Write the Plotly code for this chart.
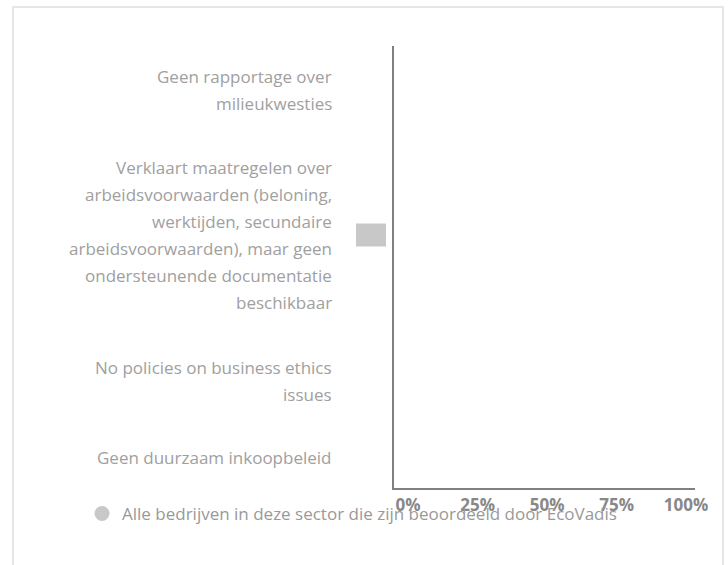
import plotly.graph_objects as go

# ---------------- data ----------------
categories = [
    "Geen rapportage over milieukwesties",
    "Verklaart maatregelen over arbeidsvoorwaarden (beloning, werktijden, secundaire arbeidsvoorwaarden), maar geen ondersteunende documentatie beschikbaar",
    "No policies on business ethics issues",
    "Geen duurzaam inkoopbeleid",
]
category_lines = [
    ["Geen rapportage over", "milieukwesties"],
    ["Verklaart maatregelen over", "arbeidsvoorwaarden (beloning,", "werktijden, secundaire",
     "arbeidsvoorwaarden), maar geen", "ondersteunende documentatie", "beschikbaar"],
    ["No policies on business ethics", "issues"],
    ["Geen duurzaam inkoopbeleid"],
]
values = [0, 0, 0, 0]
series_name = "Alle bedrijven in deze sector die zijn beoordeeld door EcoVadis"
tick_vals = [0, 25, 50, 75, 100]
tick_text = ["0%", "25%", "50%", "75%", "100%"]

# ---------------- styling / layout ----------------
W, H = 728, 565
PL, PR, PT, PB = 394, 695, 46, 488         # plot-area box in window pixels
label_center_px = [90, 235, 380.5, 457]    # Highcharts-like label placement
line_h = 27
label_right_px = 334
FONT = "Open Sans"
LABEL_COL = "#a0a0a0"
AXIS_COL = "#808080"
SERIES_COL = "#c8c8c8"


def px_x(px):
    return (px - PL) / (PR - PL)


def px_y(py):
    return (PB - py) / (PB - PT)


fig = go.Figure()
fig.add_trace(go.Bar(
    x=values, y=categories, orientation="h",
    marker=dict(color=SERIES_COL, line=dict(width=0)),
    showlegend=False, hoverinfo="skip",
))
fig.add_trace(go.Scatter(
    x=[None], y=[None], mode="markers", name=series_name,
    marker=dict(symbol="circle", size=15, color=SERIES_COL),
))

annotations = []
for c, lines in enumerate(category_lines):
    n = len(lines)
    for j, t in enumerate(lines):
        cy = label_center_px[c] + (j - (n - 1) / 2) * line_h
        annotations.append(dict(
            text=t, xref="paper", yref="paper", x=px_x(label_right_px), y=px_y(cy),
            xanchor="right", yanchor="middle", showarrow=False,
            font=dict(family=FONT, size=17, color=LABEL_COL),
        ))

shapes = [
    # outer border
    dict(type="rect", xref="paper", yref="paper",
         x0=px_x(13), x1=px_x(723), y0=px_y(580), y1=px_y(7),
         line=dict(color="#e6e6e6", width=2), fillcolor="rgba(0,0,0,0)", layer="below"),
    # grey label box next to the second category
    dict(type="rect", xref="paper", yref="paper", xsizemode="pixel", ysizemode="pixel",
         xanchor=0, x0=-38, x1=-8, yanchor=px_y(label_center_px[1]), y0=-11.5, y1=11.5,
         line=dict(width=0), fillcolor=SERIES_COL),
]

fig.update_layout(
    width=W, height=H,
    margin=dict(l=PL, r=W - PR, t=PT, b=H - PB),
    paper_bgcolor="white", plot_bgcolor="white",
    font=dict(family=FONT),
    xaxis=dict(
        range=[-5.05, 103.2], tickvals=tick_vals, ticktext=tick_text,
        showgrid=False, zeroline=False, showline=True, linecolor=AXIS_COL, linewidth=2,
        ticks="", tickfont=dict(family=FONT, size=17, color="#888888", weight="bold"),
        ticklabelstandoff=1, fixedrange=True,
    ),
    yaxis=dict(
        categoryorder="array", categoryarray=categories, autorange="reversed",
        showticklabels=False, showgrid=False, zeroline=False,
        showline=True, linecolor=AXIS_COL, linewidth=2, ticks="", fixedrange=True,
    ),
    showlegend=True,
    legend=dict(
        orientation="h", x=px_x(82), y=px_y(514), xanchor="left", yanchor="middle",
        bgcolor="rgba(0,0,0,0)", font=dict(family=FONT, size=17, color="#999999"),
        itemwidth=30,
    ),
    annotations=annotations,
    shapes=shapes,
)

fig.write_html(
    "out.html",
    config={"displayModeBar": False},
    post_script="document.body.style.margin='0';document.body.style.overflow='hidden';",
)
